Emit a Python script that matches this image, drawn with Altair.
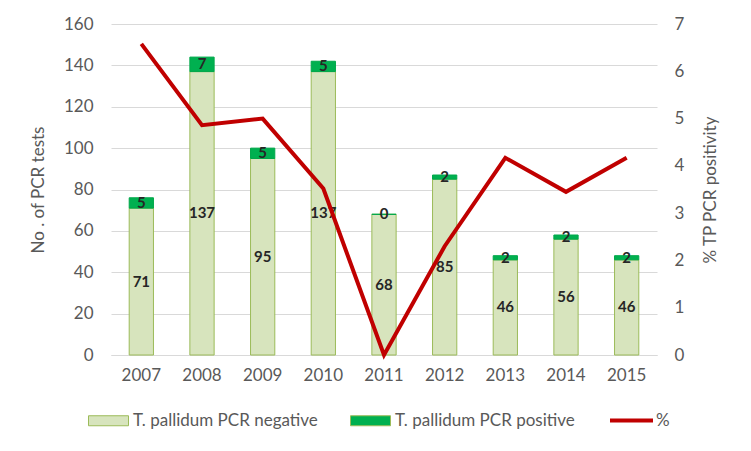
import altair as alt
import pandas as pd

years = ["2007", "2008", "2009", "2010", "2011", "2012", "2013", "2014", "2015"]
negative = [71, 137, 95, 137, 68, 85, 46, 56, 46]
positive = [5, 7, 5, 5, 0, 2, 2, 2, 2]
percent = [6.58, 4.86, 5.0, 3.52, 0.0, 2.30, 4.17, 3.45, 4.17]

NEG = "T. pallidum PCR negative"
POS = "T. pallidum PCR positive"

rows = []
for y, n, p in zip(years, negative, positive):
    rows.append({"year": y, "cat": NEG, "value": n, "ord": 0})
    rows.append({"year": y, "cat": POS, "value": p, "ord": 1})
bars_df = pd.DataFrame(rows)
line_df = pd.DataFrame({"year": years, "pct": percent, "series": ["%"] * len(years)})

GRAY = "#595959"
FONT = "Lato"
FS = 17

x_enc = alt.X(
    "year:N",
    title=None,
    scale=alt.Scale(paddingInner=0.6, paddingOuter=0.3),
    axis=alt.Axis(labelAngle=0, labelColor=GRAY, labelFontSize=FS, labelPadding=12,
                  ticks=False, domainColor="#D9D9D9", domainWidth=1, grid=False),
)

y_left = alt.Y(
    "value:Q",
    stack="zero",
    scale=alt.Scale(domain=[0, 160]),
    axis=alt.Axis(title="No . of PCR tests", values=list(range(0, 161, 20)), orient="left",
                  labelColor=GRAY, labelFontSize=FS, labelPadding=18, ticks=False, domain=False,
                  grid=True, gridColor="#D9D9D9", titleColor=GRAY, titleFontSize=FS,
                  titleFontWeight="normal", titlePadding=16),
)

bars = alt.Chart(bars_df).mark_bar(strokeWidth=1).encode(
    x=x_enc,
    y=y_left,
    fill=alt.Fill(
        "cat:N",
        scale=alt.Scale(domain=[NEG, POS], range=["#D7E4BD", "#00B050"]),
        legend=alt.Legend(
            title=None, orient="none", direction="horizontal", legendX=-23, legendY=45 + 331,
            symbolType="M-1,-0.25H1V0.25H-1Z", symbolSize=1600, symbolStrokeColor="#9BBB59",
            symbolStrokeWidth=1, labelFontSize=FS, labelColor=GRAY, labelFont=FONT,
            columnPadding=30, labelOffset=4, labelLimit=0,
        ),
    ),
    stroke=alt.Stroke(
        "cat:N",
        scale=alt.Scale(domain=[NEG, POS], range=["#9BBB59", "#00A84A"]),
        legend=None,
    ),
    order=alt.Order("ord:Q"),
)

labels = alt.Chart(bars_df).transform_stack(
    stack="value", groupby=["year"], as_=["v0", "v1"], sort=[alt.SortField("ord")]
).transform_calculate(
    mid="(datum.v0 + datum.v1) / 2"
).mark_text(fontSize=15, fontWeight="bold", color="#262626", baseline="middle").encode(
    x=alt.X("year:N"),
    y=alt.Y("mid:Q", scale=alt.Scale(domain=[0, 160])),
    text=alt.Text("value:Q"),
)

line = alt.Chart(line_df).mark_line(strokeWidth=4).encode(
    x=alt.X("year:N"),
    y=alt.Y(
        "pct:Q",
        scale=alt.Scale(domain=[0, 7]),
        axis=alt.Axis(title="% TP PCR positivity", orient="right", values=list(range(0, 8)),
                      labelColor=GRAY, labelFontSize=FS, labelPadding=17, ticks=False,
                      domain=False, grid=False, titleColor=GRAY, titleFontSize=FS,
                      titleFontWeight="normal", titlePadding=36, titleAngle=270),
    ),
    stroke=alt.Stroke(
        "series:N",
        scale=alt.Scale(domain=["%"], range=["#C00000"]),
        legend=alt.Legend(
            title=None, orient="none", legendX=497, legendY=42 + 331,
            symbolType="stroke", symbolSize=1849, symbolStrokeWidth=4,
            labelFontSize=FS, labelColor=GRAY, labelFont=FONT, labelOffset=1, labelLimit=0,
        ),
    ),
)

left = alt.layer(bars, labels)
chart = alt.layer(left, line).resolve_scale(
    y="independent", stroke="independent"
).properties(
    width=546,
    height=331,
    padding={"left": 103, "top": 16, "right": 86, "bottom": 88},
    autosize=alt.AutoSizeParams(type="none"),
    background="white",
).configure(
    font=FONT,
).configure_view(
    stroke=None,
)

chart.save("out.html", embed_options={"renderer": "svg", "actions": False})
